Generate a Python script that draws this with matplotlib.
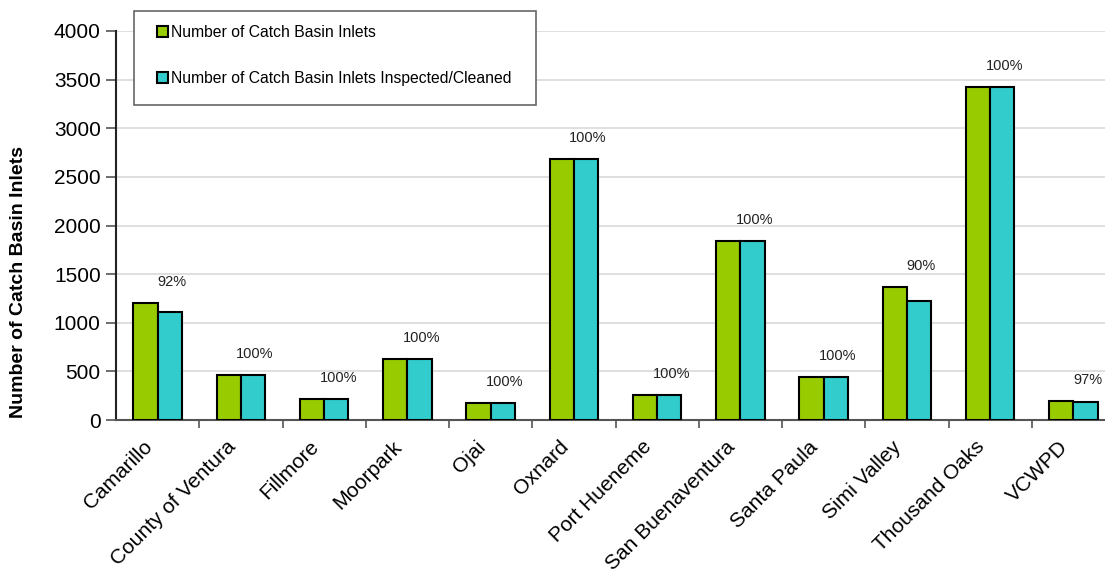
import numpy as np
import matplotlib
matplotlib.use("Agg")
import matplotlib.pyplot as plt
import matplotlib.transforms as mtransforms
from matplotlib.patches import Rectangle

plt.rcParams['font.family'] = ['Liberation Sans', 'DejaVu Sans']

cities = ["Camarillo", "County of Ventura", "Fillmore", "Moorpark", "Ojai", "Oxnard",
          "Port Hueneme", "San Buenaventura", "Santa Paula", "Simi Valley",
          "Thousand Oaks", "VCWPD"]
inlets = [1204, 463, 218, 628, 175, 2683, 262, 1842, 445, 1368, 3425, 196]
cleaned = [1108, 463, 218, 628, 175, 2683, 262, 1842, 445, 1227, 3425, 190]

green = "#99CC00"
cyan = "#33CCCC"

fig = plt.figure(figsize=(11.05, 5.78), dpi=100)
ax = fig.add_axes([116 / 1105, 158 / 578, 999 / 1105, 389 / 578])

x = np.arange(len(cities))
w = 0.29
ax.bar(x - w / 2, inlets, width=w, color=green, edgecolor="black", linewidth=1.5,
       label="Number of Catch Basin Inlets", zorder=3)
ax.bar(x + w / 2, cleaned, width=w, color=cyan, edgecolor="black", linewidth=1.5,
       label="Number of Catch Basin Inlets Inspected/Cleaned", zorder=3)

# percentage cleaned above each pair
for i in range(len(cities)):
    pct = round(100 * cleaned[i] / inlets[i])
    ax.annotate("%d%%" % pct, (x[i] + 0.17, inlets[i]), xytext=(0, 21),
                textcoords="offset pixels", ha="center", va="center", fontsize=10.5,
                color="#222222")

ax.set_xlim(-0.5, len(cities) - 0.5)
ax.set_ylim(0, 4000)
ax.set_yticks(np.arange(0, 4001, 500))
ax.yaxis.grid(True, color="#d9d9d9", linewidth=1.2, zorder=0)
ax.set_axisbelow(True)

ax.set_xticks(x)
ax.set_xticklabels(cities, rotation=45, ha="right", rotation_mode="anchor", fontsize=15)
ax.set_xticks(np.arange(0.5, len(cities) - 0.5, 1), minor=True)
ax.tick_params(axis="x", which="major", length=0, pad=8)
ax.tick_params(axis="x", which="minor", length=6, width=1.2, color="#555555")
ax.tick_params(axis="y", labelsize=15, length=7, width=1.2, color="#555555", pad=4)

# nudge the slanted city names left and down
shift = mtransforms.ScaledTranslation(-15 / 100, -6 / 100, fig.dpi_scale_trans)
for lab in ax.get_xticklabels():
    lab.set_transform(lab.get_transform() + shift)

for s in ["top", "right"]:
    ax.spines[s].set_visible(False)
ax.spines["left"].set_color("#222222")
ax.spines["left"].set_linewidth(1.5)
ax.spines["bottom"].set_color("#555555")
ax.spines["bottom"].set_linewidth(1.5)

fig.text(19 / 1105, 1 - 282 / 578, "Number of Catch Basin Inlets", rotation=90,
         ha="center", va="center", fontsize=14, fontweight="bold")

# legend box
box = Rectangle((134 / 1105, 1 - 105 / 578), 402 / 1105, 94 / 578,
                transform=fig.transFigure, facecolor="white", edgecolor="#666666",
                linewidth=1.2, zorder=5)
fig.patches.append(box)
h, l = ax.get_legend_handles_labels()
leg = fig.legend(h, l, loc="upper left", bbox_to_anchor=(157 / 1105, 1 - 25 / 578),
                 frameon=False, fontsize=11.3, handlelength=0.7, handleheight=0.7,
                 handletextpad=0.2, labelspacing=1.95, borderpad=0, borderaxespad=0)
leg.set_zorder(6)

fig.savefig("out.png", dpi=100)
